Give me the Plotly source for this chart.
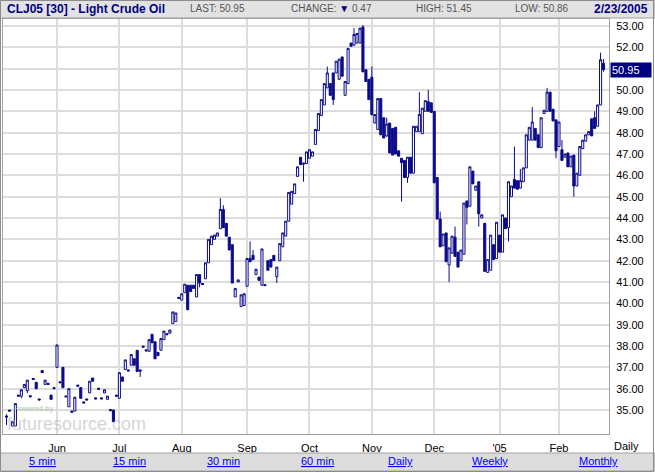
import plotly.graph_objects as go

# ---------------- data (daily candles, CLJ05) ----------------
opens = [34.72, 35.00, 34.25, 34.25, 35.70, 35.65, 36.05, 35.90, 35.67, 36.48,
         36.30, 35.52, 36.85, 36.20, 36.25, 35.70, 36.05, 37.00, 36.32, 37.00,
         35.66, 35.15, 34.95, 34.95, 36.17, 36.05, 35.38, 35.52, 35.80, 36.50,
         35.57, 36.02, 35.57, 35.80, 35.50, 35.02, 35.00, 35.70, 35.55, 36.55,
         36.90, 36.88, 37.10, 37.40, 37.80, 36.88, 38.00, 37.82, 37.75, 38.55,
         38.20, 37.70, 37.80, 38.30, 38.58, 38.60, 39.05, 39.15, 40.28, 40.15,
         40.50, 40.85, 40.85, 40.85, 40.30, 41.35, 40.93, 41.15, 41.90, 42.75,
         43.00, 43.15, 43.50, 44.40, 43.75, 43.10, 42.75, 40.30, 41.00, 39.85,
         39.90, 40.80, 42.10, 42.25, 41.35, 41.23, 40.85, 40.88, 42.00, 42.05,
         42.25, 41.25, 42.00, 42.65, 43.15, 43.85, 44.65, 45.15, 45.95, 46.85,
         46.52, 46.55, 46.80, 46.90, 47.45, 48.10, 48.80, 49.30, 50.10, 50.30,
         50.80, 50.80, 50.50, 51.55, 49.75, 50.30, 52.20, 52.10, 52.20, 52.20,
         52.95, 50.95, 50.50, 50.60, 48.45, 48.15, 49.60, 48.70, 47.85, 48.45,
         48.20, 48.25, 47.15, 46.80, 46.70, 45.90, 46.85, 46.10, 48.05, 48.05,
         47.95, 49.00, 49.45, 49.40, 49.00, 45.90, 43.95, 42.70, 43.30, 41.80,
         42.35, 43.10, 42.40, 42.00, 42.30, 44.80, 44.55, 46.20, 45.30, 45.70,
         44.00, 43.75, 41.45, 41.55, 42.75, 42.10, 43.20, 42.40, 44.00, 43.55,
         45.00, 45.80, 45.75, 45.40, 45.70, 46.35, 47.65, 47.65, 48.20, 47.90,
         47.30, 48.90, 49.00, 49.90, 49.10, 48.60, 47.35, 47.20, 46.85, 47.05,
         46.40, 46.95, 45.50, 46.00, 47.25, 47.60, 47.90, 48.65, 48.70, 48.30,
         49.30, 51.25]
highs = [34.80, 35.00, 34.45, 35.30, 35.70, 35.95, 36.20, 36.40, 35.67, 36.48,
         36.30, 35.52, 36.85, 36.40, 36.25, 35.70, 36.05, 38.05, 36.32, 37.00,
         35.66, 36.00, 34.95, 35.60, 36.17, 36.05, 35.38, 35.52, 36.35, 36.50,
         35.57, 36.02, 35.57, 35.95, 35.65, 35.02, 35.00, 35.70, 36.75, 36.55,
         37.35, 36.88, 37.60, 37.40, 37.80, 36.88, 38.00, 37.82, 38.30, 38.55,
         38.20, 37.70, 38.35, 38.70, 38.58, 38.75, 39.60, 39.55, 40.28, 40.45,
         40.90, 40.85, 40.85, 40.85, 41.35, 41.35, 40.93, 41.90, 43.00, 43.15,
         43.20, 43.30, 44.93, 44.60, 43.75, 43.10, 42.75, 40.70, 41.10, 40.40,
         40.45, 42.10, 42.90, 42.50, 41.60, 41.23, 42.55, 40.88, 42.00, 42.05,
         42.25, 41.70, 42.80, 43.30, 43.85, 45.20, 45.25, 45.60, 46.40, 46.85,
         46.57, 47.10, 47.20, 47.10, 48.15, 48.90, 49.55, 50.30, 51.10, 50.30,
         50.80, 51.35, 51.45, 51.55, 50.40, 51.95, 52.20, 52.90, 52.65, 52.90,
         53.05, 50.95, 50.50, 51.10, 48.85, 49.60, 49.60, 48.70, 48.70, 48.45,
         48.20, 48.25, 47.15, 46.80, 46.70, 46.85, 46.85, 48.30, 48.30, 49.90,
         49.15, 49.50, 50.00, 49.40, 49.00, 45.90, 44.30, 43.25, 43.30, 42.60,
         43.15, 43.60, 42.40, 42.50, 44.70, 44.80, 46.40, 46.20, 45.50, 45.70,
         44.15, 43.75, 42.05, 43.20, 42.75, 43.80, 43.20, 44.15, 44.00, 45.70,
         45.50, 47.35, 45.75, 46.30, 46.35, 47.90, 48.25, 49.20, 48.20, 47.90,
         48.70, 49.05, 50.10, 49.90, 49.10, 48.60, 48.50, 47.65, 47.00, 47.05,
         46.90, 46.95, 46.10, 47.35, 47.65, 47.90, 48.05, 48.65, 49.00, 49.30,
         51.75, 51.45]
lows = [34.30, 34.95, 34.25, 34.25, 35.65, 35.55, 36.05, 35.80, 35.62, 36.43,
        36.00, 35.47, 36.75, 36.20, 36.20, 35.50, 36.00, 37.00, 36.28, 36.05,
        35.62, 35.15, 34.90, 34.95, 36.12, 35.55, 35.33, 35.47, 35.80, 36.35,
        35.52, 35.97, 35.52, 35.80, 35.50, 34.97, 34.45, 35.65, 35.55, 36.35,
        36.90, 36.83, 37.10, 37.10, 36.80, 36.55, 37.95, 37.77, 37.75, 38.15,
        37.40, 37.55, 37.80, 38.30, 38.53, 38.60, 39.05, 39.15, 40.23, 40.15,
        40.50, 39.70, 40.55, 40.70, 40.30, 40.75, 40.88, 41.15, 41.90, 42.75,
        43.00, 43.15, 43.50, 43.55, 43.15, 42.50, 40.95, 40.30, 41.00, 39.85,
        39.90, 40.80, 41.95, 42.05, 41.35, 41.08, 40.85, 40.83, 41.55, 41.70,
        42.00, 40.95, 42.00, 42.65, 43.15, 43.85, 44.65, 45.15, 45.95, 46.50,
        45.70, 46.55, 46.80, 46.90, 47.45, 48.10, 48.80, 49.30, 50.10, 49.75,
        49.30, 50.80, 50.50, 50.65, 49.75, 50.30, 52.05, 52.10, 52.20, 52.20,
        50.85, 50.40, 49.55, 48.80, 48.45, 48.15, 47.90, 47.75, 47.80, 47.05,
        46.95, 47.00, 46.90, 44.77, 45.90, 45.65, 46.10, 46.10, 48.05, 48.05,
        47.95, 49.00, 49.00, 48.95, 45.65, 43.95, 42.65, 42.70, 41.95, 41.00,
        42.35, 42.20, 41.70, 42.00, 42.30, 43.70, 44.55, 45.60, 45.30, 43.60,
        44.00, 41.50, 41.45, 41.55, 42.05, 42.10, 42.40, 42.40, 43.50, 42.90,
        45.00, 45.40, 45.35, 45.40, 45.70, 46.35, 47.65, 47.65, 47.65, 47.30,
        47.30, 48.90, 49.00, 49.00, 48.55, 46.80, 47.35, 46.70, 46.85, 46.40,
        46.40, 45.00, 45.50, 46.00, 47.25, 47.60, 47.90, 47.85, 48.20, 48.30,
        49.30, 50.86]
closes = [34.67, 34.95, 34.45, 35.30, 35.65, 35.95, 36.20, 36.40, 35.62, 36.43,
          36.00, 35.47, 36.75, 36.40, 36.20, 35.50, 36.00, 38.05, 36.28, 36.05,
          35.62, 36.00, 34.90, 35.60, 36.12, 35.55, 35.33, 35.47, 36.35, 36.35,
          35.52, 35.97, 35.52, 35.95, 35.65, 34.97, 34.45, 35.65, 36.75, 36.35,
          37.35, 36.83, 37.60, 37.10, 36.80, 36.83, 37.95, 37.77, 38.30, 38.15,
          37.40, 37.55, 38.35, 38.70, 38.53, 38.75, 39.60, 39.55, 40.23, 40.45,
          40.90, 39.70, 40.55, 40.70, 41.35, 40.95, 40.88, 41.90, 43.00, 43.15,
          43.20, 43.30, 44.40, 43.55, 43.15, 42.50, 40.95, 40.70, 41.10, 40.40,
          40.45, 42.10, 41.95, 42.05, 41.60, 41.08, 42.55, 40.83, 41.55, 41.70,
          42.00, 41.70, 42.80, 43.30, 43.85, 45.20, 45.25, 45.60, 46.40, 46.50,
          46.57, 47.10, 47.20, 47.10, 48.15, 48.90, 49.55, 50.30, 50.80, 49.75,
          49.55, 51.35, 51.45, 50.65, 50.40, 51.95, 52.05, 52.60, 52.65, 52.90,
          50.85, 50.40, 49.55, 48.85, 48.85, 49.60, 47.90, 47.75, 48.40, 47.05,
          46.95, 47.00, 46.90, 46.60, 45.90, 46.85, 46.10, 48.30, 48.30, 48.85,
          49.15, 49.50, 49.00, 48.95, 45.65, 43.95, 42.65, 43.25, 41.95, 42.60,
          43.15, 42.20, 41.70, 42.50, 44.70, 44.50, 46.40, 45.60, 45.50, 44.20,
          44.15, 41.50, 42.05, 43.20, 42.05, 43.80, 42.40, 44.15, 43.50, 45.70,
          45.50, 45.40, 45.35, 45.75, 46.35, 47.90, 48.25, 48.50, 47.65, 47.30,
          48.70, 49.05, 49.90, 49.00, 48.55, 47.15, 48.50, 46.70, 47.00, 46.40,
          46.90, 45.50, 46.10, 47.35, 47.65, 47.90, 48.05, 47.85, 48.20, 49.30,
          51.42, 50.95]

month_labels = ["Jun", "Jul", "Aug", "Sep", "Oct", "Nov", "Dec", "'05", "Feb"]
month_start_idx = [17, 38, 59, 81, 102, 123, 144, 166, 186]
price_ticks = [35, 36, 37, 38, 39, 40, 41, 42, 43, 44, 45, 46, 47, 48, 49, 50, 51, 52, 53]
header_last, header_change, header_high, header_low = 50.95, 0.47, 51.45, 50.86
link_labels = ["5 min", "15 min", "30 min", "60 min", "Daily", "Weekly", "Monthly"]

# ---------------- layout geometry ----------------
W, H = 655, 473
PL, PR, PT, PB = 3, 609, 19, 434          # plot area in pixels
NAVY = "#0a0a8a"
FONT = "Liberation Sans, Arial, sans-serif"


def fx(x):
    return (x - PL) / (PR - PL)


def fy(y):
    return (PB - y) / (PB - PT)


last_close = closes[-1]
tick_text = ["" if abs(v - last_close) < 0.5 else f"{v:.2f}" for v in price_ticks]

idx = list(range(len(opens)))
fig = go.Figure(go.Candlestick(
    x=idx, open=opens, high=highs, low=lows, close=closes,
    increasing=dict(fillcolor="white", line=dict(color=NAVY, width=1)),
    decreasing=dict(fillcolor=NAVY, line=dict(color=NAVY, width=1)),
    whiskerwidth=0, hoverinfo="skip", showlegend=False))

fig.update_layout(
    width=W, height=H, margin=dict(l=PL, r=W - PR, t=PT, b=H - PB, pad=0),
    paper_bgcolor="white", plot_bgcolor="white", showlegend=False,
    boxgap=0.0,
    xaxis=dict(range=[-1.18, 202.84], tickvals=month_start_idx, ticktext=month_labels,
               showgrid=True, gridcolor="#dcdcdc", gridwidth=2, zeroline=False,
               rangeslider=dict(visible=False), showline=True, mirror=True,
               linecolor="#a0a0a0", linewidth=1, ticks="", ticklabelstandoff=4,
               tickfont=dict(family=FONT, size=11, color="black"), fixedrange=True,
               automargin=False),
    yaxis=dict(range=[33.876, 53.328], side="right", tickvals=price_ticks,
               ticktext=tick_text,
               showgrid=True, gridcolor="#dcdcdc", gridwidth=2, zeroline=False,
               showline=True, mirror=True, linecolor="#a0a0a0", linewidth=1,
               ticks="", ticklabelstandoff=4, automargin=False,
               tickfont=dict(family=FONT, size=11, color="black"), fixedrange=True),
)

shapes = []
# header bar
shapes.append(dict(type="rect", xref="paper", yref="paper", x0=fx(0), x1=fx(W),
                   y0=fy(18), y1=fy(0), fillcolor="#e2e2e2", line=dict(color="#a0a0a0", width=1),
                   layer="above"))
# bottom links bar
shapes.append(dict(type="rect", xref="paper", yref="paper", x0=fx(0), x1=fx(W),
                   y0=fy(471), y1=fy(453), fillcolor="#dcdcdc", line=dict(color="#a0a0a0", width=1),
                   layer="above"))
# outer frame
shapes.append(dict(type="rect", xref="paper", yref="paper", x0=fx(0.5), x1=fx(W - 1.5),
                   y0=fy(H - 1.5), y1=fy(0.5), fillcolor="rgba(0,0,0,0)",
                   line=dict(color="#8c8c8c", width=1), layer="above"))
fig.update_layout(shapes=shapes)

ann = []


def text(x, y, s, size=11, color="black", bold=False, anchor="left", **kw):
    ann.append(dict(xref="paper", yref="paper", x=fx(x), y=fy(y), text=f"<b>{s}</b>" if bold else s,
                    showarrow=False, xanchor=anchor, yanchor="middle",
                    font=dict(family=FONT, size=size, color=color), **kw))


text(5, 9, "CLJ05 [30] - Light Crude Oil", size=12, color="#000080", bold=True)
text(188, 9, f"LAST: {header_last:.2f}", size=10, color="#555555")
text(289, 9, f"CHANGE: <span style='color:#000080'>▼</span> {header_change:.2f}", size=10, color="#555555")
text(414, 9, f"HIGH: {header_high:.2f}", size=10, color="#555555")
text(513, 9, f"LOW: {header_low:.2f}", size=10, color="#555555")
text(650, 9, "2/23/2005", size=12, color="#000080", bold=True, anchor="right")
text(626, 446, "Daily", size=11, anchor="center")

link_x = [42, 129, 223, 317, 400, 490, 598]
for lx, lab in zip(link_x, link_labels):
    text(lx, 461, f"<u>{lab}</u>", size=11, color="#0000ee", anchor="center")

# watermark
text(12, 409, "Powered by", size=7, color="rgba(170,195,170,0.75)", bold=True)
text(5, 424, "futuresource.com", size=18, color="rgba(175,175,175,0.55)")

# last price flag on the axis
ann.append(dict(xref="paper", yref="y", x=fx(610), y=last_close, text=f"{last_close:.2f}",
                showarrow=False, xanchor="left", yanchor="middle", bgcolor="#000080",
                font=dict(family=FONT, size=11, color="white"), borderpad=1, width=38, align="left"))

fig.update_layout(annotations=ann)
fig.write_html("out.html", config={"displayModeBar": False, "staticPlot": True},
               post_script="document.body.style.margin='0';document.body.style.padding='0';")
